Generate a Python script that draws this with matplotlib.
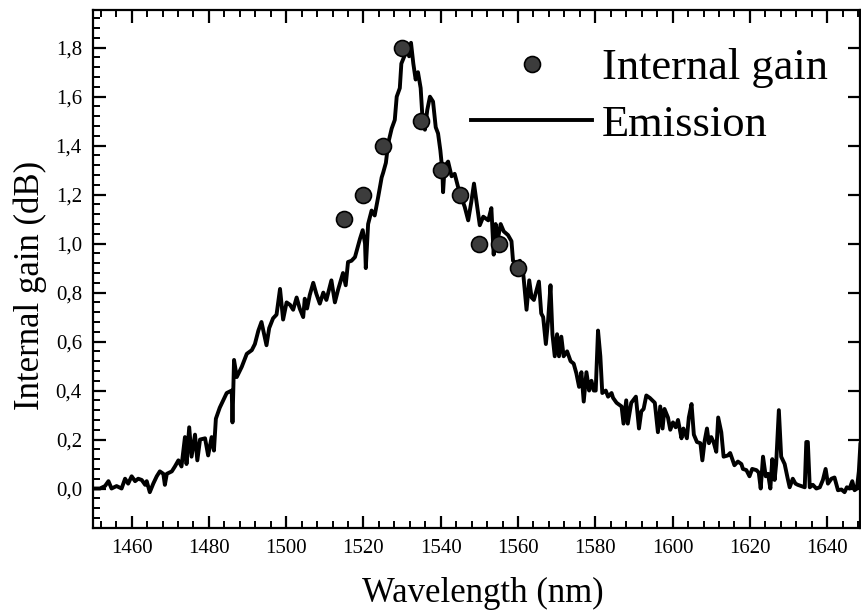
import matplotlib
matplotlib.use("Agg")
import matplotlib.pyplot as plt
from matplotlib.ticker import MultipleLocator, FuncFormatter

plt.rcParams['font.family'] = ['Liberation Serif', 'DejaVu Serif']

# Emission spectrum
wavelength = [
    1450.0, 1451.8, 1453.1, 1454.0, 1454.8, 1456.1, 1457.4, 1458.3, 1459.1, 1460.0,
    1460.9, 1461.7, 1462.6, 1463.5, 1463.9, 1464.7, 1465.6, 1466.5, 1467.3, 1468.2,
    1468.6, 1469.1, 1470.4, 1471.2, 1472.1, 1472.9, 1473.8, 1474.2, 1474.9, 1475.5,
    1476.4, 1477.0, 1477.7, 1479.0, 1479.8, 1480.7, 1481.3, 1481.8, 1482.8, 1484.6,
    1485.9, 1486.1, 1486.5, 1487.2, 1488.5, 1489.8, 1491.1, 1491.9, 1492.8, 1493.6,
    1494.9, 1495.6, 1496.6, 1497.5, 1498.4, 1499.2, 1500.1, 1501.0, 1501.8, 1502.7,
    1503.5, 1504.4, 1504.8, 1505.4, 1506.1, 1507.0, 1507.8, 1508.7, 1509.6, 1510.4,
    1511.7, 1512.6, 1513.4, 1514.7, 1515.4, 1516.0, 1516.9, 1517.8, 1519.1, 1519.8,
    1520.4, 1520.6, 1521.2, 1522.1, 1522.9, 1523.8, 1524.7, 1525.1, 1525.8, 1526.4,
    1527.3, 1528.1, 1528.6, 1529.4, 1529.8, 1530.7, 1531.3, 1531.8, 1532.3, 1532.9,
    1533.5, 1534.1, 1534.8, 1535.3, 1535.9, 1536.5, 1537.2, 1538.0, 1538.7, 1539.3,
    1539.9, 1540.4, 1540.6, 1541.0, 1541.9, 1542.8, 1543.6, 1544.5, 1545.3, 1546.2,
    1547.1, 1547.9, 1548.6, 1549.3, 1550.1, 1551.0, 1552.3, 1553.1, 1553.7, 1554.2,
    1554.8, 1555.5, 1556.3, 1557.4, 1558.3, 1558.7, 1559.6, 1560.5, 1561.3, 1562.2,
    1562.9, 1563.5, 1564.1, 1564.8, 1565.4, 1566.0, 1566.5, 1567.2, 1567.8, 1568.4,
    1568.9, 1569.5, 1570.1, 1570.6, 1571.2, 1571.8, 1572.7, 1573.6, 1574.4, 1575.1,
    1575.8, 1576.4, 1577.0, 1577.7, 1578.4, 1579.0, 1579.6, 1580.1, 1580.7, 1581.3,
    1581.8, 1582.7, 1583.3, 1584.2, 1584.6, 1585.5, 1586.8, 1587.3, 1588.0, 1588.4,
    1589.3, 1590.5, 1591.3, 1591.9, 1592.5, 1593.2, 1594.1, 1595.4, 1596.2, 1596.8,
    1597.4, 1597.9, 1598.8, 1599.4, 1600.1, 1600.8, 1601.4, 1602.3, 1602.8, 1603.7,
    1604.2, 1604.9, 1605.5, 1606.3, 1607.2, 1607.7, 1608.3, 1608.9, 1609.4, 1610.0,
    1610.6, 1611.3, 1611.8, 1612.6, 1613.2, 1614.3, 1614.9, 1616.0, 1616.9, 1617.8,
    1618.2, 1619.1, 1619.9, 1620.6, 1621.7, 1622.3, 1622.8, 1623.4, 1624.1, 1624.7,
    1625.3, 1625.8, 1626.4, 1626.8, 1627.5, 1628.1, 1629.0, 1629.8, 1630.3, 1631.1,
    1631.8, 1632.4, 1633.3, 1634.2, 1634.6, 1635.0, 1635.5, 1636.3, 1637.2, 1638.1,
    1638.9, 1639.6, 1640.2, 1641.1, 1641.9, 1642.8, 1643.7, 1644.5, 1645.1, 1645.8,
    1646.5, 1647.1, 1647.7, 1648.2, 1648.6,
]
emission = [
    0.00, 0.00, 0.01, 0.03, 0.00, 0.01, 0.00, 0.04, 0.02, 0.05,
    0.03, 0.04, 0.035, 0.015, 0.03, -0.015, 0.02, 0.05, 0.07, 0.06,
    0.015, 0.06, 0.07, 0.09, 0.115, 0.09, 0.21, 0.10, 0.25, 0.13,
    0.22, 0.115, 0.20, 0.205, 0.135, 0.21, 0.155, 0.285, 0.33, 0.39,
    0.40, 0.27, 0.525, 0.455, 0.497, 0.55, 0.565, 0.59, 0.645, 0.68,
    0.585, 0.655, 0.695, 0.71, 0.815, 0.69, 0.76, 0.75, 0.73, 0.78,
    0.735, 0.70, 0.775, 0.735, 0.79, 0.84, 0.795, 0.755, 0.80, 0.77,
    0.85, 0.76, 0.81, 0.88, 0.83, 0.925, 0.93, 0.945, 1.02, 1.055,
    1.00, 0.90, 1.08, 1.135, 1.115, 1.19, 1.27, 1.29, 1.33, 1.41,
    1.47, 1.505, 1.60, 1.635, 1.735, 1.77, 1.81, 1.765, 1.82, 1.735,
    1.67, 1.70, 1.635, 1.505, 1.465, 1.545, 1.60, 1.58, 1.475, 1.45,
    1.38, 1.30, 1.21, 1.315, 1.335, 1.275, 1.285, 1.23, 1.19, 1.15,
    1.095, 1.17, 1.245, 1.165, 1.075, 1.11, 1.095, 1.145, 0.955, 1.08,
    1.02, 1.08, 1.05, 1.035, 1.01, 0.93, 0.92, 0.93, 0.885, 0.73,
    0.85, 0.78, 0.77, 0.81, 0.845, 0.715, 0.70, 0.59, 0.69, 0.83,
    0.63, 0.54, 0.63, 0.54, 0.62, 0.54, 0.56, 0.52, 0.51, 0.47,
    0.415, 0.475, 0.355, 0.475, 0.40, 0.44, 0.40, 0.40, 0.645, 0.54,
    0.39, 0.40, 0.375, 0.39, 0.37, 0.35, 0.335, 0.265, 0.36, 0.265,
    0.35, 0.375, 0.245, 0.315, 0.325, 0.38, 0.37, 0.35, 0.23, 0.335,
    0.245, 0.325, 0.29, 0.24, 0.27, 0.25, 0.28, 0.205, 0.245, 0.205,
    0.29, 0.345, 0.22, 0.19, 0.185, 0.115, 0.195, 0.245, 0.185, 0.21,
    0.19, 0.15, 0.29, 0.23, 0.13, 0.135, 0.145, 0.095, 0.11, 0.10,
    0.08, 0.075, 0.05, 0.08, 0.075, 0.065, 0.00, 0.13, 0.05, 0.06,
    0.00, 0.12, 0.035, 0.10, 0.32, 0.13, 0.10, 0.04, 0.005, 0.04,
    0.02, 0.015, 0.01, 0.005, 0.19, 0.19, 0.005, 0.015, 0.00, 0.005,
    0.035, 0.08, 0.02, 0.04, 0.045, -0.007, -0.004, -0.015, 0.005, 0.00,
    0.03, -0.007, 0.00, 0.07, 0.18,
]

# Internal gain measurements
gain_wavelength = [1515, 1520, 1525, 1530, 1535, 1540, 1545, 1550, 1555, 1560]
gain_values = [1.10, 1.20, 1.40, 1.80, 1.50, 1.30, 1.20, 1.00, 1.00, 0.90]

fig = plt.figure(figsize=(8.61, 6.16), dpi=100)
ax = fig.add_axes([93/861, (616-527.7)/616, (860-93)/861, (527.7-9.5)/616])

ax.plot(wavelength, emission, color='black', lw=2.8, label='Emission', zorder=2)
ax.plot(gain_wavelength, gain_values, 'o', ms=11.5, mfc='#3c3c3c', mec='black',
        mew=1.2, label='Internal gain', linestyle='none', zorder=3)

ax.set_xlim(1450, 1648.5)
ax.set_ylim(-0.16, 1.956)

ax.xaxis.set_major_locator(MultipleLocator(20))
ax.xaxis.set_minor_locator(MultipleLocator(4))
ax.yaxis.set_major_locator(MultipleLocator(0.2))
ax.yaxis.set_minor_locator(MultipleLocator(0.04))
ax.yaxis.set_major_formatter(FuncFormatter(lambda v, p: f"{v:.1f}".replace('.', ',')))

for s in ax.spines.values():
    s.set_linewidth(1.6)

ax.tick_params(axis='both', which='major', direction='in', length=9, width=1.6,
               labelsize=15, top=True, right=True, pad=8)
ax.tick_params(axis='x', which='minor', direction='in', length=5, width=1.4,
               top=True, bottom=True)
ax.tick_params(axis='y', which='minor', direction='in', length=5, width=1.4,
               left=True, right=False)

ax.set_xlabel('Wavelength (nm)', fontsize=25)
ax.set_ylabel('Internal gain (dB)', fontsize=25)
ax.xaxis.set_label_coords(0.508, -0.095)
ax.yaxis.set_label_coords(-0.06, 0.467)

handles, labels = ax.get_legend_handles_labels()
leg = ax.legend(handles[::-1], labels[::-1], loc='upper right',
                bbox_to_anchor=(0.999, 0.985), frameon=False, fontsize=32,
                handlelength=2.72, handletextpad=0.23, labelspacing=0.37,
                borderpad=0.2, numpoints=1)

fig.savefig('out.png', dpi=100)
